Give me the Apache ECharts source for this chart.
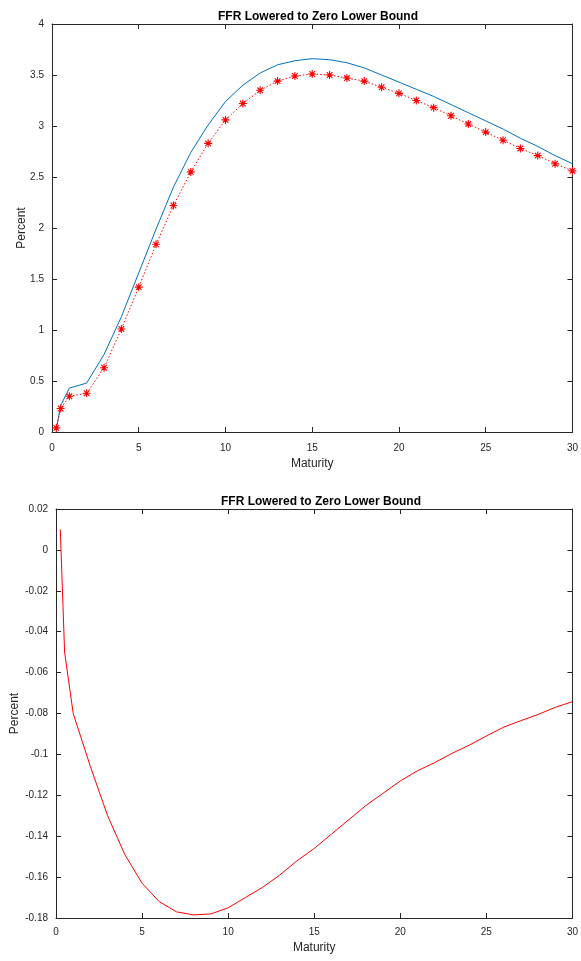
<!DOCTYPE html>
<html>
<head>
<meta charset="utf-8">
<script src="https://cdn.jsdelivr.net/npm/echarts@6/dist/echarts.min.js"></script>
<style>
html,body{margin:0;padding:0;background:#fff;}
#c{width:581px;height:961px;}
</style>
</head>
<body>
<div id="c"></div>
<script>
var titleText = 'FFR Lowered to Zero Lower Bound';
var xName = 'Maturity';
var yName = 'Percent';
var maturities = [0.25,0.5,1,2,3,4,5,6,7,8,9,10,11,12,13,14,15,16,17,18,19,20,21,22,23,24,25,26,27,28,29,30];
var topBlue = [0.03,0.26,0.43,0.48,0.76,1.13,1.56,1.99,2.40,2.74,3.01,3.24,3.40,3.52,3.60,3.64,3.66,3.65,3.62,3.57,3.50,3.43,3.36,3.29,3.21,3.13,3.05,2.97,2.88,2.80,2.71,2.63];
var topRed = [0.04,0.23,0.35,0.38,0.63,1.01,1.42,1.84,2.22,2.55,2.83,3.06,3.22,3.35,3.44,3.49,3.51,3.50,3.47,3.44,3.38,3.32,3.25,3.18,3.10,3.02,2.94,2.86,2.78,2.71,2.63,2.56];
var bottomRed = [0.010,-0.050,-0.080,-0.106,-0.130,-0.149,-0.163,-0.172,-0.177,-0.1785,-0.178,-0.175,-0.170,-0.165,-0.159,-0.152,-0.146,-0.139,-0.132,-0.125,-0.119,-0.113,-0.108,-0.104,-0.0995,-0.0955,-0.091,-0.0867,-0.0835,-0.0805,-0.077,-0.0742];

function pairs(xs, ys){ return xs.map(function(x,i){ return [x, ys[i]]; }); }

var axisColor = '#262626';
var font = 'Liberation Sans, Arial, sans-serif';
var asterisk = 'path://M0,-5L0,5M-5,0L5,0M-3.5,-3.5L3.5,3.5M-3.5,3.5L3.5,-3.5';

function xAxisPair(gi, margin, gap){
  return [
    {type:'value', gridIndex:gi, position:'bottom', min:0, max:30, interval:5,
     name:xName, nameLocation:'middle', nameGap:gap, nameMoveOverlap:false,
     nameTextStyle:{color:axisColor, fontSize:12, fontFamily:font},
     axisLine:{show:true, onZero:false, lineStyle:{color:axisColor, width:1}},
     axisTick:{show:true, inside:true, length:5, lineStyle:{color:axisColor}},
     axisLabel:{color:axisColor, fontSize:10, fontFamily:font, margin:margin},
     splitLine:{show:false}},
    {type:'value', gridIndex:gi, position:'top', min:0, max:30, interval:5,
     axisLine:{show:true, onZero:false, lineStyle:{color:axisColor, width:1}},
     axisTick:{show:true, inside:true, length:5, lineStyle:{color:axisColor}},
     axisLabel:{show:false}, splitLine:{show:false}}
  ];
}
function yAxisPair(gi, mn, mx, iv, gap, fmt){
  return [
    {type:'value', gridIndex:gi, position:'left', min:mn, max:mx, interval:iv,
     name:yName, nameLocation:'middle', nameGap:gap, nameRotate:90, nameMoveOverlap:false,
     nameTextStyle:{color:axisColor, fontSize:12, fontFamily:font},
     axisLine:{show:true, onZero:false, lineStyle:{color:axisColor, width:1}},
     axisTick:{show:true, inside:true, length:5, lineStyle:{color:axisColor}},
     axisLabel:{color:axisColor, fontSize:10, fontFamily:font, margin:8, formatter:fmt},
     splitLine:{show:false}},
    {type:'value', gridIndex:gi, position:'right', min:mn, max:mx, interval:iv,
     axisLine:{show:true, onZero:false, lineStyle:{color:axisColor, width:1}},
     axisTick:{show:true, inside:true, length:5, lineStyle:{color:axisColor}},
     axisLabel:{show:false}, splitLine:{show:false}}
  ];
}
var fmt = function(v){ return String(+(+v).toFixed(2)); };

var chart = echarts.init(document.getElementById('c'), null, {renderer:'canvas'});
chart.setOption({
  animation:false,
  backgroundColor:'#fff',
  title:[
    {text:titleText, left:313, top:6, textAlign:'center',
     textStyle:{fontSize:12, fontWeight:'bold', color:'#000', fontFamily:font}},
    {text:titleText, left:316, top:491, textAlign:'center',
     textStyle:{fontSize:12, fontWeight:'bold', color:'#000', fontFamily:font}}
  ],
  grid:[
    {left:52, top:24, width:522, height:408},
    {left:56, top:509, width:520, height:409}
  ],
  xAxis: xAxisPair(0, 11, 26).concat(xAxisPair(1, 9, 24)),
  yAxis: yAxisPair(0, 0, 4, 0.5, 24, fmt).concat(yAxisPair(1, -0.18, 0.02, 0.02, 35, fmt)),
  series:[
    {type:'line', xAxisIndex:0, yAxisIndex:0, data:pairs(maturities, topBlue),
     showSymbol:false, symbol:'none', lineStyle:{color:'#0072BD', width:1}},
    {type:'line', xAxisIndex:0, yAxisIndex:0, data:pairs(maturities, topRed),
     symbol:asterisk, symbolSize:8, showSymbol:true,
     itemStyle:{color:'rgba(0,0,0,0)', borderColor:'#ff0000', borderWidth:1.1},
     lineStyle:{color:'#ff0000', width:1, type:[1.5,2]}},
    {type:'line', xAxisIndex:2, yAxisIndex:2, data:pairs(maturities, bottomRed),
     showSymbol:false, symbol:'none', lineStyle:{color:'#ff0000', width:1}}
  ]
});
</script>
</body>
</html>
